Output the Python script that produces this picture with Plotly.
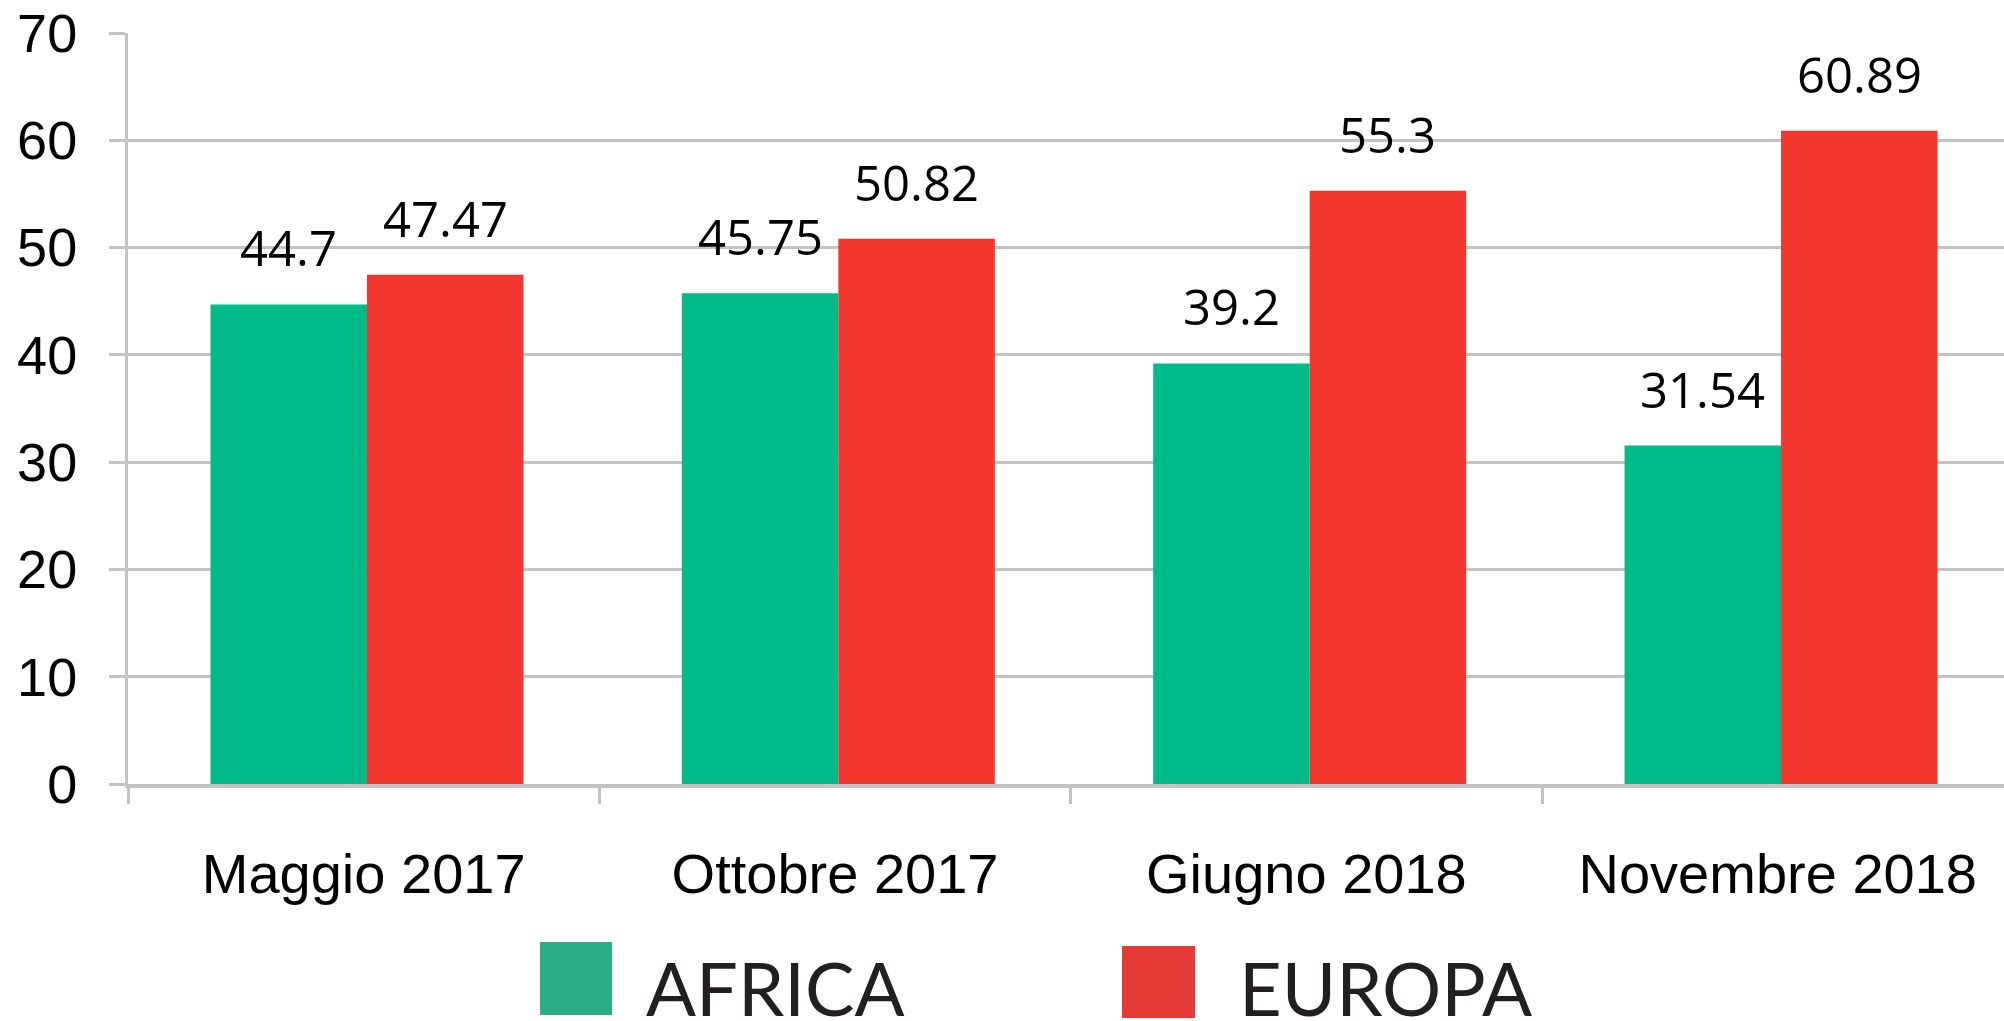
import plotly.graph_objects as go

categories = ["Maggio 2017", "Ottobre 2017", "Giugno 2018", "Novembre 2018"]
africa = [44.7, 45.75, 39.2, 31.54]
europa = [47.47, 50.82, 55.3, 60.89]
series_names = ["AFRICA", "EUROPA"]
bar_colors = ["#00BA89", "#F2372F"]
legend_colors = ["#2BAE85", "#E53A35"]
y_ticks = [0, 10, 20, 30, 40, 50, 60, 70]

W, H = 2004, 1021
L, T, B = 128, 33, 237
PW = W - L
PH = H - T - B

bar_w = 0.332
shift = 0.007
offsets = [-bar_w + shift, shift]

fig = go.Figure()
for name, vals, col, off in zip(series_names, [africa, europa], bar_colors, offsets):
    fig.add_trace(go.Bar(x=categories, y=vals, name=name, marker=dict(color=col, line=dict(width=0)),
                         showlegend=False, width=bar_w, offset=off))

annotations = []
for vals, off in zip([africa, europa], offsets):
    for i, v in enumerate(vals):
        annotations.append(dict(x=i + off + bar_w / 2, y=v, xref="x", yref="y", text=f"{v:g}",
                                showarrow=False, yanchor="bottom", yshift=22,
                                font=dict(family="Open Sans", size=49, color="#000000")))

# manual legend
def px2paper_x(px):
    return (px - L) / PW

def px2paper_y(py):
    return (H - B - py) / PH

legend_boxes = [(540, 612, 942, 1015, 644), (1122, 1195, 946, 1018, 1237)]
shapes = []
for (x0, x1, y0, y1, tx), name, col in zip(legend_boxes, series_names, legend_colors):
    shapes.append(dict(type="rect", xref="paper", yref="paper",
                       x0=px2paper_x(x0), x1=px2paper_x(x1), y0=px2paper_y(y1), y1=px2paper_y(y0),
                       fillcolor=col, line=dict(width=0), layer="above"))
    annotations.append(dict(x=px2paper_x(tx), y=px2paper_y(987), xref="paper", yref="paper",
                            text=name, showarrow=False, xanchor="left", yanchor="middle",
                            font=dict(family="Lato", size=74, color="#231F20")))

fig.update_layout(
    width=W, height=H,
    margin=dict(l=L, r=0, t=T, b=B, pad=0, autoexpand=False),
    paper_bgcolor="white", plot_bgcolor="white",
    barmode="group",
    showlegend=False,
    shapes=shapes,
    annotations=annotations,
    xaxis=dict(type="category", range=[-0.5, 3.48], showline=True, linecolor="#C3C3C3", linewidth=4,
               ticks="outside", tickson="boundaries", ticklen=16, tickwidth=3, tickcolor="#C3C3C3",
               showgrid=False, ticklabelstandoff=38, automargin=False,
               tickfont=dict(family="Liberation Sans", size=56, color="#000000")),
    yaxis=dict(range=[0, 70], tickvals=y_ticks, showline=True, linecolor="#C3C3C3", linewidth=3,
               showgrid=True, gridcolor="#C3C3C3", gridwidth=3, zeroline=False, automargin=False,
               ticks="outside", ticklen=16, tickwidth=3, tickcolor="#C3C3C3", ticklabelstandoff=21,
               tickfont=dict(family="Liberation Sans", size=54, color="#000000")),
)

fig.write_html("out.html", config={"displayModeBar": False},
               post_script="document.body.style.margin='0';document.body.style.overflow='hidden';")
